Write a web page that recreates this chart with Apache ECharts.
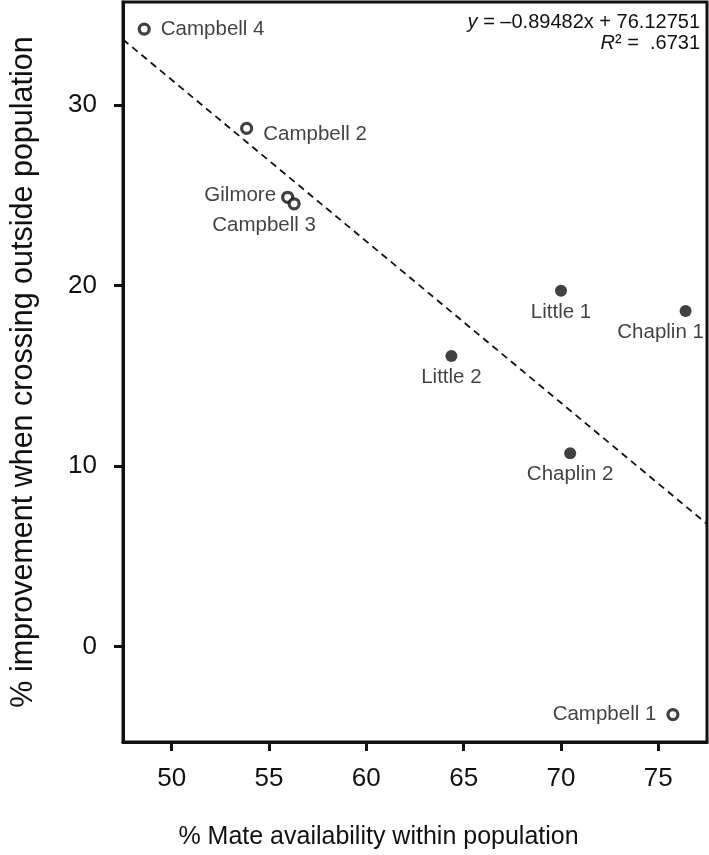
<!DOCTYPE html>
<html>
<head>
<meta charset="utf-8">
<script src="https://cdn.jsdelivr.net/npm/echarts@6/dist/echarts.min.js"></script>
<style>html,body{margin:0;padding:0;background:#fff}#c{width:709px;height:855px}</style>
</head>
<body>
<div id="c"></div>
<script>
// ---- data ----
const openNames = ['Campbell 4', 'Campbell 2', 'Gilmore', 'Campbell 3', 'Campbell 1'];
const openX     = [48.59, 53.85, 55.96, 56.29, 75.75];
const openY     = [34.2, 28.7, 24.88, 24.52, -3.78];
const filledNames = ['Little 1', 'Chaplin 1', 'Little 2', 'Chaplin 2'];
const filledX     = [70.0, 76.4, 64.37, 70.47];
const filledY     = [19.7, 18.58, 16.09, 10.70];
const slope = -0.89482, intercept = 76.12751, r2 = '.6731';
const xTicks = [50, 55, 60, 65, 70, 75];
const yTicks = [0, 10, 20, 30];
const xRange = [47.5, 77.5];
const yRange = [-5.3, 35.7];

// ---- label placement (style) ----
const place = {
  'Campbell 4': {position: 'right', distance: 10},
  'Campbell 2': {position: 'right', distance: 10, offset: [0, 6]},
  'Gilmore':    {position: 'left', distance: 5, offset: [0, -2]},
  'Campbell 3': {position: 'bottom', distance: 4, offset: [-30, 0]},
  'Campbell 1': {position: 'left', distance: 10},
  'Little 1':   {position: 'bottom', distance: 5},
  'Chaplin 1':  {position: 'bottom', distance: 5, offset: [-25, 0]},
  'Little 2':   {position: 'bottom', distance: 5},
  'Chaplin 2':  {position: 'bottom', distance: 5}
};
function pts(names, xs, ys) {
  return names.map((n, i) => ({name: n, value: [xs[i], ys[i]], label: place[n]}));
}
const FONT = '"Liberation Sans", Arial, sans-serif';
const INK = '#111';
const chart = echarts.init(document.getElementById('c'), null, {renderer: 'canvas'});
chart.setOption({
  animation: false,
  backgroundColor: '#fff',
  grid: {left: 106, right: 2, top: 2, bottom: 95, show: true, borderColor: INK, borderWidth: 3, containLabel: false},
  xAxis: {
    type: 'value', min: xRange[0], max: xRange[1],
    name: '% Mate availability within population', nameLocation: 'middle', nameGap: 83,
    nameTextStyle: {fontFamily: FONT, fontSize: 25, color: INK, padding: [0, 73, 0, 0]},
    axisLine: {show: true, onZero: false, lineStyle: {color: INK, width: 3}},
    axisTick: {show: true, length: 9, lineStyle: {color: INK, width: 3}, customValues: xTicks},
    axisLabel: {fontFamily: FONT, fontSize: 26, color: INK, margin: 24, customValues: xTicks},
    splitLine: {show: false}
  },
  yAxis: {
    type: 'value', min: yRange[0], max: yRange[1],
    name: '% improvement when crossing outside population', nameLocation: 'middle', nameGap: 84,
    nameTextStyle: {fontFamily: FONT, fontSize: 30.5, color: INK},
    axisLine: {show: true, onZero: false, lineStyle: {color: INK, width: 3}},
    axisTick: {show: true, length: 9, lineStyle: {color: INK, width: 3}, customValues: yTicks},
    axisLabel: {fontFamily: FONT, fontSize: 26, color: INK, margin: 26, customValues: yTicks},
    splitLine: {show: false}
  },
  series: [
    {
      type: 'line', silent: true, symbol: 'none',
      data: [[xRange[0], slope * xRange[0] + intercept], [xRange[1], slope * xRange[1] + intercept]],
      lineStyle: {color: INK, width: 1.8, type: [7, 5]}
    },
    {
      type: 'scatter', symbol: 'circle', symbolSize: 10,
      itemStyle: {color: '#fff', borderColor: INK, borderWidth: 3.2},
      label: {show: true, formatter: '{b}', fontFamily: FONT, fontSize: 20.5, color: INK},
      data: pts(openNames, openX, openY)
    },
    {
      type: 'scatter', symbol: 'circle', symbolSize: 12,
      itemStyle: {color: INK},
      label: {show: true, formatter: '{b}', fontFamily: FONT, fontSize: 20.5, color: INK},
      data: pts(filledNames, filledX, filledY)
    }
  ],
  graphic: [
    {
      type: 'text', right: 9, top: 12,
      style: {
        text: '{i|y} = \u20130.89482x + 76.12751',
        rich: {i: {fontStyle: 'italic', fontFamily: FONT, fontSize: 20, fill: INK}},
        font: '20px ' + FONT, fill: INK, align: 'right'
      }
    },
    {
      type: 'text', right: 9, top: 33,
      style: {
        text: '{i|R}\u00b2 =  ' + r2,
        rich: {i: {fontStyle: 'italic', fontFamily: FONT, fontSize: 20, fill: INK}},
        font: '20px ' + FONT, fill: INK, align: 'right'
      }
    }
  ]
});
</script>
</body>
</html>
